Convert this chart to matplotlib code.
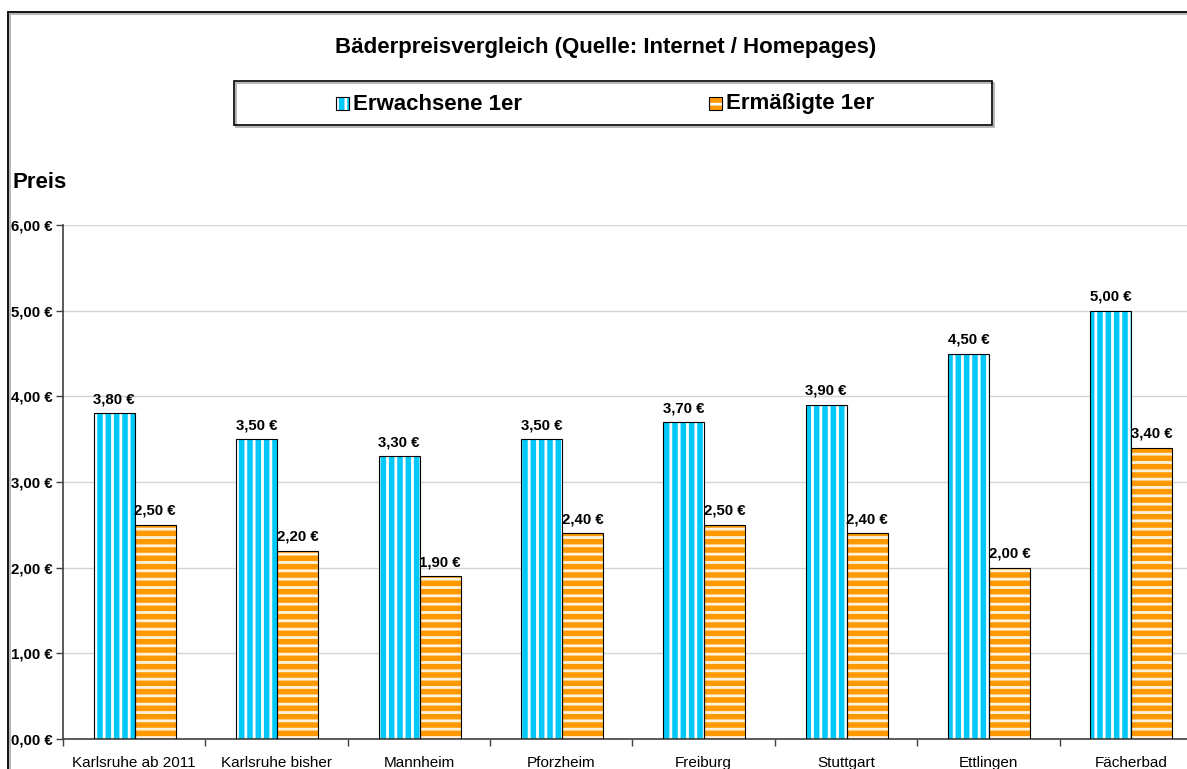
import matplotlib.pyplot as plt
from matplotlib.patches import Rectangle
import numpy as np

# data
staedte = ["Karlsruhe ab 2011", "Karlsruhe bisher", "Mannheim", "Pforzheim",
           "Freiburg", "Stuttgart", "Ettlingen", "Fächerbad"]
erwachsene = [3.80, 3.50, 3.30, 3.50, 3.70, 3.90, 4.50, 5.00]
ermaessigt = [2.50, 2.20, 1.90, 2.40, 2.50, 2.40, 2.00, 3.40]
serien = ["Erwachsene 1er", "Ermäßigte 1er"]
titel = "Bäderpreisvergleich (Quelle: Internet / Homepages)"

W, H = 1187, 769
plt.rcParams['font.family'] = ['Liberation Sans', 'DejaVu Sans']
plt.rcParams['hatch.linewidth'] = 2.0

blau = '#00C8F8'
orange = '#FF9900'

def fx(x):
    return x / W

def fy(y):
    return 1 - y / H

def euro(v):
    return ("%.2f" % v).replace('.', ',') + " €"

fig = plt.figure(figsize=(W / 100, H / 100), dpi=100)

# outer frame with shadow
fig.patches.append(Rectangle((fx(10), fy(790)), fx(1200), fy(14) - fy(790), transform=fig.transFigure,
                             fill=False, edgecolor='#aaaaaa', linewidth=1.2))
fig.patches.append(Rectangle((fx(8), fy(788)), fx(1200), fy(12) - fy(788), transform=fig.transFigure,
                             fill=False, edgecolor='black', linewidth=1.3))

fig.text(fx(606), fy(48), titel, ha='center', va='center', fontsize=16, fontweight='bold')

# legend box
fig.patches.append(Rectangle((fx(236), fy(127)), fx(992 - 234), fy(81) - fy(125), transform=fig.transFigure,
                             fill=False, edgecolor='#aaaaaa', linewidth=1.2))
fig.patches.append(Rectangle((fx(234), fy(125)), fx(992 - 234), fy(81) - fy(125), transform=fig.transFigure,
                             fill=False, edgecolor='black', linewidth=1.2))
leg_x = [336, 709]
leg_styles = [(blau, '||'), (orange, '--')]
for lx, name, (col, hat) in zip(leg_x, serien, leg_styles):
    fig.patches.append(Rectangle((fx(lx), fy(110)), fx(13), fy(97) - fy(110), transform=fig.transFigure,
                                 facecolor=col, edgecolor='white', hatch=hat, linewidth=0))
    fig.patches.append(Rectangle((fx(lx), fy(110)), fx(13), fy(97) - fy(110), transform=fig.transFigure,
                                 fill=False, edgecolor='black', linewidth=0.8))
    fig.text(fx(lx + 17), fy(104), name, ha='left', va='center', fontsize=16, fontweight='bold')

fig.text(fx(12), fy(183), "Preis", ha='left', va='center', fontsize=16, fontweight='bold')

ax = fig.add_axes([fx(63), fy(739), fx(1202 - 63), fy(225) - fy(739)])
x = np.arange(len(staedte))
bw = 0.288
xb = x - 0.14
xo = x + 0.148

ax.bar(xb, erwachsene, bw, color=blau, edgecolor='white', hatch='||', linewidth=0, zorder=2)
ax.bar(xb, erwachsene, bw, fill=False, edgecolor='black', linewidth=0.8, zorder=3)
ax.bar(xo, ermaessigt, bw, color=orange, edgecolor='#FFF2DC', hatch='--', linewidth=0, zorder=2)
ax.bar(xo, ermaessigt, bw, fill=False, edgecolor='black', linewidth=0.8, zorder=3)

for xs, vals in [(xb, erwachsene), (xo, ermaessigt)]:
    for xi, v in zip(xs, vals):
        ax.annotate(euro(v), (xi, v), xytext=(0, 5), textcoords='offset points',
                    ha='center', va='bottom', fontsize=10.8, fontweight='bold')

ax.set_xlim(-0.5, len(staedte) - 0.5)
ax.set_ylim(0, 6)
yt = np.arange(0, 7)
ax.set_yticks(yt)
ax.set_yticklabels([euro(v) for v in yt], fontweight='bold', fontsize=10.8)
ax.yaxis.grid(True, color='#D4D4D4', linewidth=1)
ax.set_axisbelow(True)

ax.set_xticks(np.arange(len(staedte) + 1) - 0.5)
ax.set_xticklabels([])
ax.set_xticks(x, minor=True)
ax.set_xticklabels(staedte, minor=True, fontsize=11)
ax.tick_params(axis='x', which='minor', length=0, pad=12)
ax.tick_params(axis='x', which='major', length=5, width=1, color='#404040', direction='out')
ax.tick_params(axis='y', length=5, width=1, color='#404040', direction='out', pad=2.5)

for s in ['top', 'right']:
    ax.spines[s].set_visible(False)
for s in ['left', 'bottom']:
    ax.spines[s].set_color('#404040')
    ax.spines[s].set_linewidth(1.2)

fig.savefig('out.png', dpi=100)
